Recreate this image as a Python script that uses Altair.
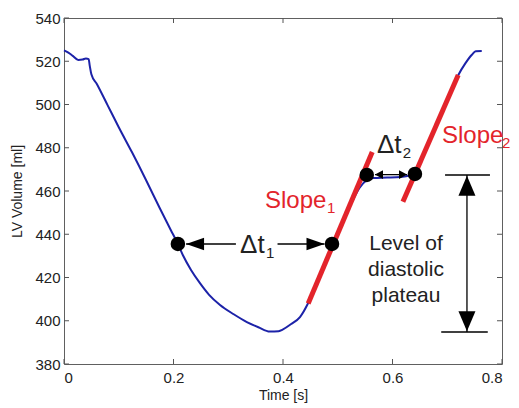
import altair as alt
import pandas as pd

# LV volume trace over one cardiac cycle
time_s = [0.000, 0.008, 0.016, 0.026, 0.034, 0.040, 0.045, 0.047, 0.050, 0.060,
          0.080, 0.100, 0.124, 0.150, 0.175, 0.195, 0.208, 0.217, 0.232,
          0.248, 0.265, 0.285, 0.310, 0.334, 0.355, 0.376, 0.392, 0.400, 0.415,
          0.431, 0.446, 0.460, 0.475, 0.491, 0.505, 0.520, 0.530, 0.540, 0.553,
          0.565, 0.590, 0.615, 0.632, 0.641, 0.652, 0.670, 0.690, 0.705, 0.720,
          0.733, 0.745, 0.752, 0.763]
volume_ml = [525.0, 524.0, 522.5, 520.6, 520.8, 521.3, 521.0, 518.0, 514.0, 509.5,
             499.5, 489.5, 478.0, 465.0, 452.0, 442.0, 435.5, 430.4, 423.5,
             417.5, 412.0, 407.3, 403.0, 399.4, 397.0, 395.0, 395.2, 396.0, 398.5,
             401.7, 408.2, 416.5, 425.5, 435.0, 444.0, 452.0, 457.0, 461.5, 465.0,
             466.0, 466.2, 466.5, 467.3, 468.3, 474.0, 485.0, 496.5, 505.0, 513.5,
             519.0, 523.0, 524.6, 524.7]

# Fitted filling slopes (start / end of each red segment)
slope_t0 = [0.446, 0.619]
slope_v0 = [408.0, 455.0]
slope_t1 = [0.563, 0.720]
slope_v1 = [478.0, 513.6]

# Characteristic points on the curve
marker_t = [0.208, 0.4895, 0.553, 0.641]
marker_v = [435.5, 435.5, 467.4, 467.9]

# Diastolic plateau level
plateau_top = 467.4
plateau_bottom = 394.8
plateau_t = 0.736

x_ticks = [0.0, 0.2, 0.4, 0.6, 0.8]
y_ticks = [380, 400, 420, 440, 460, 480, 500, 520, 540]

W, H = 438, 346
FONT = "Liberation Sans"
BLUE = "#1c22a8"
RED = "#e3242b"
INK = "#222222"

xscale = alt.Scale(domain=[0, 0.8], nice=False, zero=False)
yscale = alt.Scale(domain=[380, 540], nice=False, zero=False)
xaxis = alt.Axis(values=x_ticks, format="~g", title="Time [s]", ticks=False,
                 domain=False, grid=False, labelPadding=6, titlePadding=3)
yaxis = alt.Axis(values=y_ticks, title="LV Volume [ml]", ticks=False,
                 domain=False, grid=False, labelPadding=4, titlePadding=10)


def X(field="t"):
    return alt.X(f"{field}:Q", scale=xscale, axis=xaxis)


def Y(field="v"):
    return alt.Y(f"{field}:Q", scale=yscale, axis=yaxis)


curve_df = pd.DataFrame({"t": time_s, "v": volume_ml})
curve = alt.Chart(curve_df).mark_line(color=BLUE, strokeWidth=2, interpolate="monotone").encode(
    x=X(), y=Y())

slopes_df = pd.DataFrame({"t": slope_t0, "v": slope_v0, "t2": slope_t1, "v2": slope_v1})
slopes = alt.Chart(slopes_df).mark_rule(color=RED, strokeWidth=5).encode(
    x=X(), y=Y(), x2="t2:Q", y2="v2:Q")

# Inside-pointing frame ticks
xt_df = pd.DataFrame({"t": x_ticks})
yt_df = pd.DataFrame({"v": y_ticks})
tick_style = dict(color="#555555", strokeWidth=1)
ticks_bottom = alt.Chart(xt_df).mark_rule(**tick_style).encode(
    x=X(), y=alt.value(H), y2=alt.value(H - 5))
ticks_top = alt.Chart(xt_df).mark_rule(**tick_style).encode(
    x=X(), y=alt.value(0), y2=alt.value(5))
ticks_left = alt.Chart(yt_df).mark_rule(**tick_style).encode(
    y=Y(), x=alt.value(0), x2=alt.value(5))
ticks_right = alt.Chart(yt_df).mark_rule(**tick_style).encode(
    y=Y(), x=alt.value(W), x2=alt.value(W - 5))

# Arrow shafts and plateau bars
dt1_y = marker_v[0]
dt2_y = 467.6
shafts_df = pd.DataFrame({
    "t": [0.223, 0.3900, 0.568, plateau_t, 0.696, 0.689],
    "t2": [0.314, 0.4758, 0.6265, plateau_t, 0.778, 0.774],
    "v": [dt1_y, dt1_y, dt2_y, plateau_top, plateau_top, plateau_bottom],
    "v2": [dt1_y, dt1_y, dt2_y, plateau_bottom, plateau_top, plateau_bottom],
})
shafts = alt.Chart(shafts_df).mark_rule(color="black", strokeWidth=1.3).encode(
    x=X(), y=Y(), x2="t2:Q", y2="v2:Q")

# Arrow heads (tip at the anchor point)
RIGHT_BIG = "M0,0L-2,-0.7L-2,0.7Z"
LEFT_BIG = "M0,0L2,-0.7L2,0.7Z"
RIGHT_SMALL = "M0,0L-2,-1.1L-2,1.1Z"
LEFT_SMALL = "M0,0L2,-1.1L2,1.1Z"
UP = "M0,0L-0.85,2L0.85,2Z"
DOWN = "M0,0L-0.85,-2L0.85,-2Z"
heads_df = pd.DataFrame({
    "t": [0.223, 0.4758, 0.568, 0.6265, plateau_t, plateau_t],
    "v": [dt1_y, dt1_y, dt2_y, dt2_y, plateau_top - 0.4, plateau_bottom + 0.4],
    "shape": [LEFT_BIG, RIGHT_BIG, LEFT_SMALL, RIGHT_SMALL, UP, DOWN],
    "size": [324, 324, 64, 64, 400, 400],
})
heads = alt.Chart(heads_df).mark_point(filled=True, color="black", opacity=1, strokeWidth=0).encode(
    x=X(), y=Y(),
    shape=alt.Shape("shape:N", scale=None),
    size=alt.Size("size:Q", scale=None))

dots_df = pd.DataFrame({"t": marker_t, "v": marker_v})
dots = alt.Chart(dots_df).mark_circle(color="black", opacity=1, size=210).encode(x=X(), y=Y())

# Labels: main text and subscripts
slope_df = pd.DataFrame({
    "t": [0.3671, 0.6904],
    "v": [452.1, 482.2],
    "label": ["Slope", "Slope"],
})
delta_df = pd.DataFrame({
    "t": [0.3215, 0.5717],
    "v": [431.3, 477.6],
    "label": ["Δt", "Δt"],
})
sub_df = pd.DataFrame({
    "t": [0.4804, 0.8000, 0.3690, 0.6185],
    "v": [449.8, 479.9, 429.0, 475.3],
    "label": ["1", "2", "1", "2"],
    "color": [RED, RED, INK, INK],
})
slope_text = alt.Chart(slope_df).mark_text(align="left", baseline="alphabetic", font=FONT,
                                           fontSize=24, color=RED).encode(
    x=X(), y=Y(), text="label:N")
delta_text = alt.Chart(delta_df).mark_text(align="left", baseline="alphabetic", font=FONT,
                                           fontSize=26, color=INK).encode(
    x=X(), y=Y(), text="label:N")
sub_text = alt.Chart(sub_df).mark_text(align="left", baseline="alphabetic", font=FONT,
                                       fontSize=15).encode(
    x=X(), y=Y(), text="label:N", color=alt.Color("color:N", scale=None))

level_df = pd.DataFrame({
    "t": [0.6247, 0.6247, 0.6247],
    "v": [432.7, 420.7, 408.7],
    "label": ["Level of", "diastolic", "plateau"],
})
level_text = alt.Chart(level_df).mark_text(align="center", baseline="alphabetic", font=FONT,
                                           fontSize=21, color=INK).encode(
    x=X(), y=Y(), text="label:N")

chart = alt.layer(
    ticks_bottom, ticks_top, ticks_left, ticks_right,
    curve, slopes, shafts, heads, dots, slope_text, delta_text, sub_text, level_text,
).properties(
    width=W, height=H,
    autosize=alt.AutoSizeParams(type="none"),
    padding={"left": 64, "top": 18, "right": 17, "bottom": 44},
    background="white",
).configure_view(
    stroke="#606060", strokeWidth=1,
).configure_axis(
    labelFont=FONT, labelFontSize=15, labelColor=INK,
    titleFont=FONT, titleFontSize=14, titleColor=INK, titleFontWeight="normal",
)

chart.save("out.html", embed_options={"renderer": "svg", "actions": False})
